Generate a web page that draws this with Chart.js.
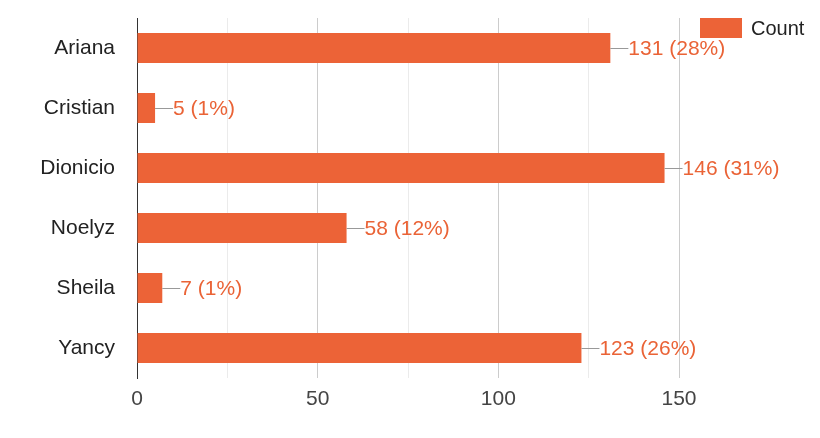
<!DOCTYPE html>
<html>
<head>
<meta charset="utf-8">
<script src="https://cdn.jsdelivr.net/npm/chart.js@4"></script>
<style>
  html, body { margin: 0; padding: 0; background: #fff; }
  #wrap { width: 820px; height: 438px; }
</style>
</head>
<body>
<div id="wrap"><canvas id="chart" width="820" height="438"></canvas></div>
<script>
// data
const names = ['Ariana', 'Cristian', 'Dionicio', 'Noelyz', 'Sheila', 'Yancy'];
const counts = [131, 5, 146, 58, 7, 123];
const percents = [28, 1, 31, 12, 1, 26];
const seriesName = 'Count';
const xTicks = [0, 50, 100, 150];

const BAR = '#ec6337';
const FONT = '"Liberation Sans", Arial, sans-serif';

// leader lines + value labels, plus the legend in the top right corner
const annotate = {
  id: 'annotate',
  afterDatasetsDraw(chart) {
    const ctx = chart.ctx;
    const meta = chart.getDatasetMeta(0);
    ctx.save();
    meta.data.forEach((bar, i) => {
      const x = bar.x, y = Math.round(bar.y) + 0.5;
      ctx.strokeStyle = '#999';
      ctx.lineWidth = 1;
      ctx.beginPath();
      ctx.moveTo(x, y);
      ctx.lineTo(x + 18, y);
      ctx.stroke();
      ctx.fillStyle = '#ea6336';
      ctx.font = '21px ' + FONT;
      ctx.textAlign = 'left';
      ctx.textBaseline = 'middle';
      ctx.fillText(`${counts[i]} (${percents[i]}%)`, x + 18, bar.y + 1);
    });
    // legend
    ctx.fillStyle = BAR;
    ctx.fillRect(700, 18, 42, 20);
    ctx.fillStyle = '#222';
    ctx.font = '20px ' + FONT;
    ctx.textBaseline = 'middle';
    ctx.fillText(seriesName, 751, 29);
    ctx.restore();
  }
};

new Chart(document.getElementById('chart'), {
  type: 'bar',
  data: {
    labels: names,
    datasets: [{
      label: seriesName,
      data: counts,
      backgroundColor: BAR,
      barPercentage: 0.5,
      categoryPercentage: 1
    }]
  },
  options: {
    indexAxis: 'y',
    responsive: false,
    animation: false,
    layout: { padding: { top: 18, right: 141, bottom: 0, left: 0 } },
    plugins: { legend: { display: false }, tooltip: { enabled: false } },
    scales: {
      x: {
        min: 0,
        max: 150,
        afterFit: (s) => { s.height = 60; s.paddingLeft = 0; s.paddingRight = 0; },
        border: { display: false },
        grid: {
          drawTicks: false,
          color: (c) => c.tick.value === 0 ? 'rgba(0,0,0,0)' : (c.tick.value % 50 === 0 ? '#cccccc' : '#ebebeb')
        },
        ticks: {
          stepSize: 25,
          padding: 9,
          color: '#444',
          font: { size: 21, family: FONT },
          callback: (v) => xTicks.includes(v) ? String(v) : ''
        }
      },
      y: {
        afterFit: (s) => { s.width = 137; s.paddingTop = 0; s.paddingBottom = 0; },
        border: { display: true, color: '#333', width: 1 },
        grid: { display: false, drawTicks: false },
        ticks: {
          padding: 22,
          color: '#222',
          font: { size: 21, family: FONT }
        }
      }
    }
  },
  plugins: [annotate]
});
</script>
</body>
</html>
